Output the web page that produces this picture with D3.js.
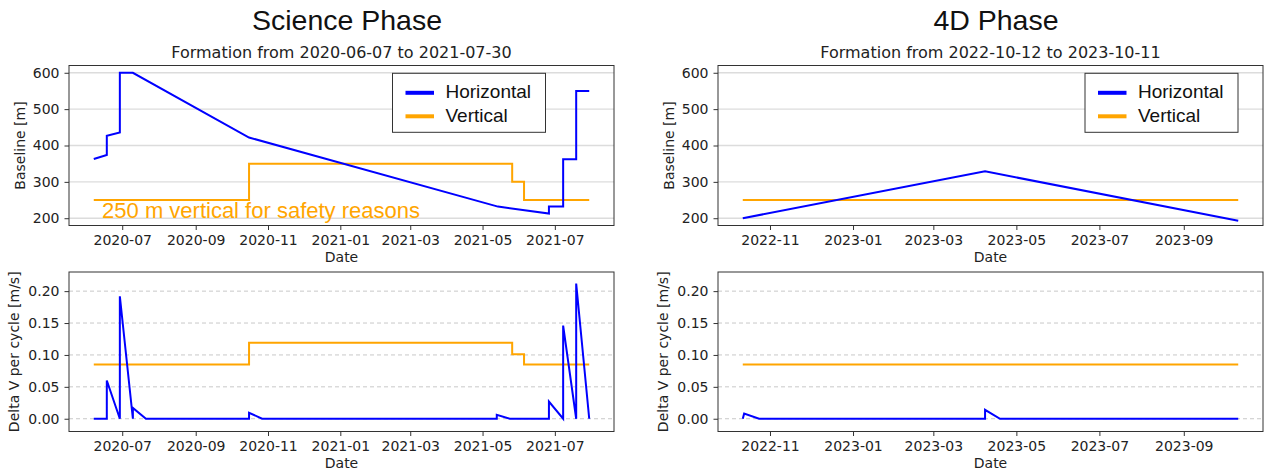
<!doctype html>
<html>
<head>
<script src="https://d3js.org/d3.v7.min.js"></script>
<style>
  body { margin: 0; background: #fff; }
</style>
</head>
<body>
<svg width="1266" height="474"></svg>
<script>
// ---- Science phase, baseline [m] ----
var sciHorizDates = ["2020-06-07","2020-06-18","2020-06-18","2020-06-29","2020-06-29","2020-07-10",
                     "2020-10-16","2021-05-14","2021-06-26","2021-06-26","2021-07-08","2021-07-08",
                     "2021-07-19","2021-07-19","2021-07-30"];
var sciHorizBaseline = [363, 374, 427, 436, 600, 600, 422, 232, 213, 232, 232, 362, 362, 550, 550];
var sciVertDates = ["2020-06-07","2020-10-16","2020-10-16","2021-05-26","2021-05-26","2021-06-05","2021-06-05","2021-07-30"];
var sciVertBaseline = [250, 250, 350, 350, 300, 300, 250, 250];

// ---- Science phase, delta V per cycle [m/s] ----
var sciHorizDvDates = ["2020-06-07","2020-06-18","2020-06-18","2020-06-29","2020-06-29","2020-07-10","2020-07-10",
                       "2020-07-21","2020-10-16","2020-10-16","2020-10-27","2021-05-13","2021-05-13","2021-05-24",
                       "2021-06-26","2021-06-26","2021-07-08","2021-07-08","2021-07-19","2021-07-19","2021-07-30"];
var sciHorizDv = [0, 0, 0.060, 0, 0.192, 0, 0.017, 0, 0, 0.0094, 0, 0, 0.006, 0,
                  0, 0.027, 0, 0.146, 0, 0.212, 0];
var sciVertDv = [0.085, 0.085, 0.119, 0.119, 0.101, 0.101, 0.085, 0.085]; // same dates as sciVertDates

// ---- 4D phase ----
var fdHorizDates = ["2022-10-12","2023-04-08","2023-10-11"];
var fdHorizBaseline = [200, 329, 193];
var fdVertDates = ["2022-10-12","2023-10-11"];
var fdVertBaseline = [250, 250];
var fdHorizDvDates = ["2022-10-12","2022-10-13","2022-10-24","2023-04-08","2023-04-08","2023-04-19","2023-10-11"];
var fdHorizDv = [0, 0.008, 0, 0, 0.014, 0, 0];
var fdVertDv = [0.085, 0.085];

var baselineTicks = [200, 300, 400, 500, 600];
var dvTicks = [0, 0.05, 0.10, 0.15, 0.20];
var phaseTitles = ["Science Phase", "4D Phase"];
var subTitles = ["Formation from 2020-06-07 to 2021-07-30", "Formation from 2022-10-12 to 2023-10-11"];
var seriesNames = ["Horizontal", "Vertical"];

var BLUE = "#0000ff", ORANGE = "#ffa500";
var parse = d3.timeParse("%Y-%m-%d");
function zip(dates, vals) { return dates.map(function (d, i) { return [parse(d), vals[i]]; }); }

var svg = d3.select("svg");
svg.append("rect").attr("width", 1266).attr("height", 474).attr("fill", "#fff");

var cols = [{x0: 69, w: 545}, {x0: 718, w: 545}];
var rows = [{y0: 65.5, h: 160}, {y0: 272, h: 159.5}];

var phases = [
  {range: ["2020-06-07", "2021-07-30"],
   base: [zip(sciHorizDates, sciHorizBaseline), zip(sciVertDates, sciVertBaseline)],
   dv: [zip(sciHorizDvDates, sciHorizDv), zip(sciVertDates, sciVertDv)],
   legendX: 392.5},
  {range: ["2022-10-12", "2023-10-11"],
   base: [zip(fdHorizDates, fdHorizBaseline), zip(fdVertDates, fdVertBaseline)],
   dv: [zip(fdHorizDvDates, fdHorizDv), zip(fdVertDates, fdVertDv)],
   legendX: 1085}
];

phases.forEach(function (ph, c) {
  var col = cols[c];
  var t0 = parse(ph.range[0]), t1 = parse(ph.range[1]);
  var pad = (t1 - t0) * 0.05;
  var x = d3.scaleTime().domain([new Date(+t0 - pad), new Date(+t1 + pad)]).range([0, col.w]);

  // titles
  svg.append("text")
    .attr("x", col.x0 + col.w / 2 + 5.5).attr("y", 30)
    .attr("text-anchor", "middle")
    .style("font-family", "Liberation Sans, Arial, sans-serif")
    .style("font-size", "28.5px").attr("fill", "#111")
    .text(phaseTitles[c]);
  svg.append("text")
    .attr("x", col.x0 + col.w / 2).attr("y", 58.3)
    .attr("text-anchor", "middle")
    .style("font-family", "DejaVu Sans, sans-serif")
    .style("font-size", "16px").attr("fill", "#222")
    .text(subTitles[c]);

  [0, 1].forEach(function (r) {
    var row = rows[r];
    var y = r === 0
      ? d3.scaleLinear().domain([180, 620]).range([row.h, 0])
      : d3.scaleLinear().domain([-0.02, 0.23]).range([row.h, 0]);
    var ticks = r === 0 ? baselineTicks : dvTicks;
    var series = r === 0 ? ph.base : ph.dv;

    var g = svg.append("g").attr("transform", "translate(" + col.x0 + "," + row.y0 + ")");

    // grid
    g.append("g").selectAll("line").data(ticks).enter().append("line")
      .attr("x1", 0).attr("x2", col.w)
      .attr("y1", function (d) { return y(d); }).attr("y2", function (d) { return y(d); })
      .attr("stroke", r === 0 ? "#dcdcdc" : "#c8c8c8")
      .attr("stroke-width", r === 0 ? 1.3 : 1)
      .attr("stroke-dasharray", r === 0 ? null : "4,3");

    // lines
    var line = d3.line().x(function (d) { return x(d[0]); }).y(function (d) { return y(d[1]); });
    [1, 0].forEach(function (s) {
      g.append("path").datum(series[s])
        .attr("d", line).attr("fill", "none")
        .attr("stroke", s === 0 ? BLUE : ORANGE)
        .attr("stroke-width", 2)
        .attr("stroke-linejoin", "miter");
    });

    // frame
    g.append("rect").attr("width", col.w).attr("height", row.h)
      .attr("fill", "none").attr("stroke", "#333").attr("stroke-width", 1);

    // axes
    var yAxis = g.append("g")
      .call(d3.axisLeft(y).tickValues(ticks).tickSize(4.5).tickPadding(5)
        .tickFormat(r === 0 ? d3.format("d") : d3.format(".2f")));
    var xAxis = g.append("g").attr("transform", "translate(0," + row.h + ")")
      .call(d3.axisBottom(x).ticks(d3.timeMonth.every(2)).tickSize(4.5).tickPadding(5)
        .tickFormat(d3.timeFormat("%Y-%m")));
    [yAxis, xAxis].forEach(function (ax) {
      ax.select(".domain").remove();
      ax.selectAll("line").attr("stroke", "#333");
      ax.selectAll("text").attr("fill", "#222")
        .style("font-family", "DejaVu Sans, sans-serif").style("font-size", "14px");
    });

    // axis labels
    g.append("text")
      .attr("x", col.w / 2).attr("y", row.h + 36.8)
      .attr("text-anchor", "middle")
      .style("font-family", "DejaVu Sans, sans-serif").style("font-size", "14px").attr("fill", "#222")
      .text("Date");
    g.append("text")
      .attr("transform", "translate(" + (r === 0 ? -44.5 : -50.2) + "," + row.h / 2 + ")rotate(-90)")
      .attr("text-anchor", "middle")
      .style("font-family", "DejaVu Sans, sans-serif").style("font-size", "14px").attr("fill", "#222")
      .text(r === 0 ? "Baseline [m]" : "Delta V per cycle [m/s]");

    if (r === 0) {
      // legend
      var lg = svg.append("g").attr("transform", "translate(" + ph.legendX + ",73.3)");
      lg.append("rect").attr("width", 153).attr("height", 59)
        .attr("fill", "#fff").attr("stroke", "#333").attr("stroke-width", 1);
      seriesNames.forEach(function (name, i) {
        lg.append("line").attr("x1", 13).attr("x2", 41.5)
          .attr("y1", 19.5 + i * 23.5).attr("y2", 19.5 + i * 23.5)
          .attr("stroke", i === 0 ? BLUE : ORANGE).attr("stroke-width", 4);
        lg.append("text").attr("x", 53).attr("y", 25 + i * 23.5)
          .style("font-family", "Liberation Sans, Arial, sans-serif")
          .style("font-size", "19px").attr("fill", "#111")
          .text(name);
      });

      if (c === 0) {
        g.append("text")
          .attr("x", x(parse("2020-06-14"))).attr("y", y(200))
          .style("font-family", "Liberation Sans, Arial, sans-serif")
          .style("font-size", "22px").attr("fill", ORANGE)
          .text("250 m vertical for safety reasons");
      }
    }
  });
});
</script>
</body>
</html>
